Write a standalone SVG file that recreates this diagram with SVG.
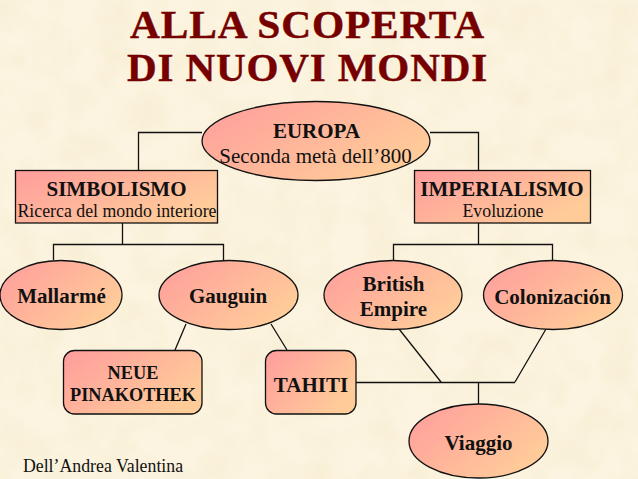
<svg xmlns="http://www.w3.org/2000/svg" width="638" height="479" viewBox="0 0 638 479">
<style>
text{font-family:"Liberation Serif","Times New Roman",serif;fill:#111;text-anchor:middle}
.b{font-weight:bold;font-size:21px}
.n{font-size:21px}
.s{font-size:17.800px}
.p{font-weight:bold;font-size:18.300px}
.t{font-weight:bold;font-size:39px;fill:#760000;letter-spacing:.8px;stroke:#760000;stroke-width:.4}
.sh{fill:url(#g);stroke:#111;stroke-width:1.300}
.c{fill:none;stroke:#111;stroke-width:1.300}
</style>
<defs>
<linearGradient id="g" x1="0" y1="0" x2="1" y2="0.6"><stop offset="0" stop-color="#FF9C9C"/><stop offset="1" stop-color="#FFCC99"/></linearGradient>
<filter id="paper" x="0" y="0" width="100%" height="100%"><feTurbulence type="fractalNoise" baseFrequency="0.03" numOctaves="4" seed="4"/><feColorMatrix values="0 0 0 0 0.92  0 0 0 0 0.83  0 0 0 0 0.62  1.100 0 0 0 -0.380"/></filter>
</defs>
<rect width="638" height="479" fill="#FCF4E0"/>
<rect width="638" height="479" filter="url(#paper)"/>
<g id="title"><text class="t" x="307.500" y="38" textLength="355" lengthAdjust="spacingAndGlyphs">ALLA SCOPERTA</text><text class="t" x="307.500" y="81" textLength="361" lengthAdjust="spacingAndGlyphs">DI NUOVI MONDI</text></g>
<g id="connectors">
<path class="c" d="M202 132.500H138.500V170M430 132.500H478.500V170"/>
<path class="c" d="M122.500 223V244.500M53.500 260V244.500H223.500V260"/>
<path class="c" d="M478.500 223V244.500M393.500 260V244.500H552.500V260"/>
<path class="c" d="M186 324L175 350M271 324L287 350"/>
<path class="c" d="M399 329L441 382M546 329L515 382M356 382.500H515M478.500 382.500V404"/>
</g>
<g id="europa"><ellipse class="sh" cx="316" cy="141" rx="114" ry="39.500"/><text class="b" x="316.500" y="137.500">EUROPA</text><text class="n" x="315.500" y="162.500">Seconda metà dell’800</text></g>
<g id="simbolismo"><rect class="sh" x="15.500" y="170.500" width="202" height="52.500"/><text class="b" x="116.500" y="196">SIMBOLISMO</text><text class="s" x="117" y="217">Ricerca del mondo interiore</text></g>
<g id="imperialismo"><rect class="sh" x="414.500" y="170.500" width="176" height="52.500"/><text class="b" x="502" y="196">IMPERIALISMO</text><text class="s" x="503" y="217">Evoluzione</text></g>
<g id="mallarme"><ellipse class="sh" cx="61" cy="295" rx="61" ry="34.500"/><text class="b" x="61.500" y="303">Mallarmé</text></g>
<g id="gauguin"><ellipse class="sh" cx="228.500" cy="295" rx="69.500" ry="34.500"/><text class="b" x="228" y="303">Gauguin</text></g>
<g id="british"><ellipse class="sh" cx="393" cy="295" rx="69" ry="34.500"/><text class="b" x="393.500" y="291">British</text><text class="b" x="393.500" y="316">Empire</text></g>
<g id="colonizacion"><ellipse class="sh" cx="553" cy="295" rx="69.500" ry="34.500"/><text class="b" x="552.500" y="303.500">Colonización</text></g>
<g id="neue"><rect class="sh" x="63.500" y="350.500" width="138.500" height="63.500" rx="11"/><text class="p" x="133" y="379">NEUE</text><text class="p" x="133" y="401">PINAKOTHEK</text></g>
<g id="tahiti"><rect class="sh" x="265.500" y="350.500" width="90.500" height="63.500" rx="11"/><text class="b" x="311" y="391.500">TAHITI</text></g>
<g id="viaggio"><ellipse class="sh" cx="478.500" cy="441" rx="69.500" ry="37"/><text class="b" x="478.500" y="449.500">Viaggio</text></g>
<g id="author"><text class="s" x="103" y="472">Dell’Andrea Valentina</text></g>
</svg>
